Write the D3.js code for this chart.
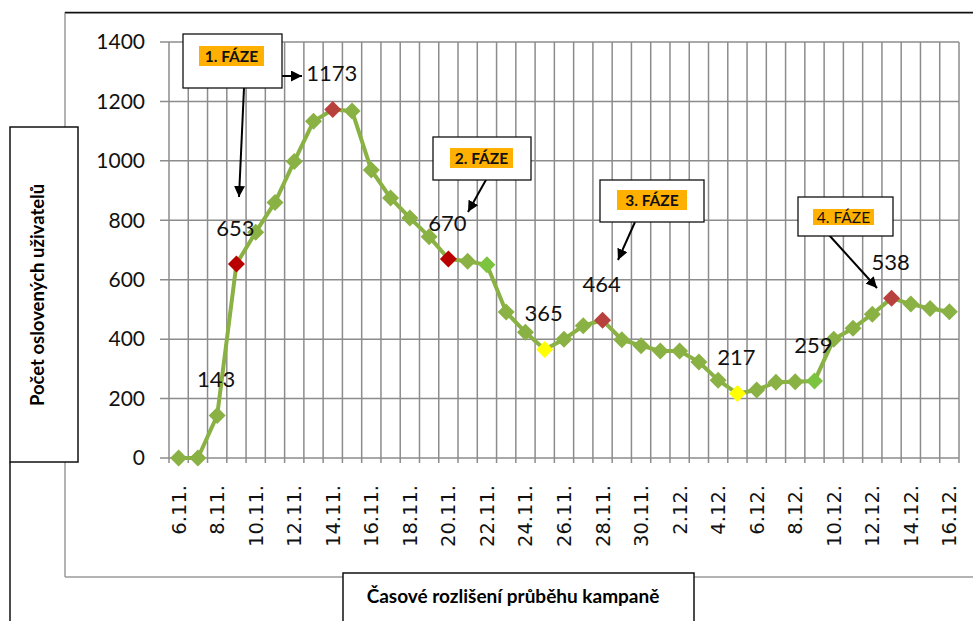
<!DOCTYPE html>
<html><head><meta charset="utf-8">
<script src="https://cdn.jsdelivr.net/npm/d3@7/dist/d3.min.js"></script>
<style>
html,body{margin:0;padding:0;background:#fff;}
svg{display:block;}
</style></head>
<body>
<svg id="chart" width="973" height="621"></svg>
<script>
// ---- data ----
const dates = ["6.11.","7.11.","8.11.","9.11.","10.11.","11.11.","12.11.","13.11.","14.11.","15.11.",
  "16.11.","17.11.","18.11.","19.11.","20.11.","21.11.","22.11.","23.11.","24.11.","25.11.",
  "26.11.","27.11.","28.11.","29.11.","30.11.","1.12.","2.12.","3.12.","4.12.","5.12.",
  "6.12.","7.12.","8.12.","9.12.","10.12.","11.12.","12.12.","13.12.","14.12.","15.12.","16.12."];
const users = [0,0,143,653,760,860,998,1133,1173,1168,
  969,875,808,745,670,662,650,491,423,365,
  400,445,464,398,378,360,360,323,262,217,
  229,255,257,259,400,437,484,538,518,503,492];
const yTicks = [0,200,400,600,800,1000,1200,1400];
const xTickLabels = ["6.11.","8.11.","10.11.","12.11.","14.11.","16.11.","18.11.","20.11.","22.11.","24.11.",
  "26.11.","28.11.","30.11.","2.12.","4.12.","6.12.","8.12.","10.12.","12.12.","14.12.","16.12."];
const phaseStartDates = ["9.11.","20.11."];       // strong red markers
const peakDates = ["14.11.","28.11.","13.12."];   // muted red markers
const lowDates = ["25.11.","5.12."];              // yellow markers
const turnDates = ["22.11.","9.12."];             // light green markers
const labeledDates = ["8.11.","9.11.","14.11.","20.11.","25.11.","28.11.","5.12.","9.12.","13.12."];
const phaseNames = ["1. FÁZE","2. FÁZE","3. FÁZE","4. FÁZE"];
const yTitle = "Počet oslovených uživatelů";
const xTitle = "Časové rozlišení průběhu kampaně";

// ---- drawing ----
const svg = d3.select("#chart");
const L = 169, R = 959, T = 42, B = 458;
const x = d3.scaleBand().domain(dates).range([L, R]).padding(0);
const y = d3.scaleLinear().domain([0, 1400]).range([B, T]);
const cx = d => x(d) + x.bandwidth() / 2;
const gridCol = "#8c8c8c";

// outer chart-area frame
svg.append("path").attr("d", "M65,577 L65,13 L973,13").attr("fill","none").attr("stroke","#9a9a9a").attr("stroke-width",1.5);
svg.append("line").attr("x1",65).attr("x2",973).attr("y1",12.5).attr("y2",12.5).attr("stroke","#111").attr("stroke-width",1.5);
svg.append("line").attr("x1",65).attr("x2",973).attr("y1",577).attr("y2",577).attr("stroke","#9a9a9a").attr("stroke-width",1.5);
svg.append("line").attr("x1",10).attr("x2",10).attr("y1",462).attr("y2",621).attr("stroke","#111").attr("stroke-width",1.5);

// gridlines
const g = svg.append("g");
const bounds = dates.map(d => x(d)).concat([R]);
g.selectAll("line.v").data(bounds).join("line")
  .attr("x1", d => d).attr("x2", d => d).attr("y1", T).attr("y2", B + 5)
  .attr("stroke", gridCol).attr("stroke-width", 1.5);
g.selectAll("line.h").data(yTicks).join("line")
  .attr("x1", L - 9).attr("x2", R).attr("y1", d => y(d)).attr("y2", d => y(d))
  .attr("stroke", gridCol).attr("stroke-width", 1.5);

// y tick labels
svg.append("g").selectAll("text").data(yTicks).join("text")
  .attr("x", 145).attr("y", d => y(d)).attr("dy", "0.35em")
  .attr("text-anchor", "end").attr("font-family", "Lato").attr("font-size", 21).attr("fill", "#111")
  .text(d => d);

// x tick labels (rotated)
svg.append("g").selectAll("text").data(xTickLabels).join("text")
  .attr("transform", d => `translate(${cx(d)},485) rotate(-90)`)
  .attr("dy", "0.36em").attr("text-anchor", "end")
  .attr("font-family", "DejaVu Sans").attr("font-size", 19.5).attr("fill", "#111")
  .text(d => d);

// line
const pts = dates.map((d, i) => ({d, v: users[i]}));
svg.append("path").datum(pts)
  .attr("d", d3.line().x(p => cx(p.d)).y(p => y(p.v)))
  .attr("fill", "none").attr("stroke", "#8AB143").attr("stroke-width", 4).attr("stroke-linejoin","round");

// markers
function markerColor(d) {
  if (phaseStartDates.includes(d)) return "#B80000";
  if (peakDates.includes(d)) return "#B8413E";
  if (lowDates.includes(d)) return "#FFFF00";
  if (turnDates.includes(d)) return "#7CC43F";
  return "#8AB143";
}
const ms = 8.5;
svg.append("g").selectAll("path").data(pts).join("path")
  .attr("transform", p => `translate(${cx(p.d)},${y(p.v)})`)
  .attr("d", `M0,${-ms} L${ms},0 L0,${ms} L${-ms},0 Z`)
  .attr("fill", p => markerColor(p.d));

// data labels
svg.append("g").selectAll("text").data(pts.filter(p => labeledDates.includes(p.d))).join("text")
  .attr("x", p => cx(p.d) - 1).attr("y", p => y(p.v) - 36).attr("dy", "0.35em")
  .attr("text-anchor", "middle").attr("font-family", "Lato").attr("font-size", 22).attr("fill", "#111")
  .text(p => p.v);

// axis title boxes
svg.append("rect").attr("x",10).attr("y",127).attr("width",68).attr("height",335)
  .attr("fill","#fff").attr("stroke","#111").attr("stroke-width",1.5);
svg.append("text").attr("transform","translate(38,295) rotate(-90)").attr("dy","0.35em")
  .attr("text-anchor","middle").attr("font-family","Lato").attr("font-weight","bold").attr("font-size",18.5).attr("fill","#000")
  .text(yTitle);
svg.append("rect").attr("x",343).attr("y",573).attr("width",351).attr("height",60)
  .attr("fill","#fff").attr("stroke","#111").attr("stroke-width",1.5);
svg.append("text").attr("x",513).attr("y",596).attr("dy","0.35em")
  .attr("text-anchor","middle").attr("font-family","Lato").attr("font-weight","bold").attr("font-size",19).attr("fill","#000")
  .text(xTitle);

// phase callouts
const defs = svg.append("defs");
defs.append("marker").attr("id","ah").attr("viewBox","0 0 10 10").attr("refX",10).attr("refY",5)
  .attr("markerWidth",5.5).attr("markerHeight",5.5).attr("markerUnits","strokeWidth").attr("orient","auto")
  .append("path").attr("d","M0,0 L10,5 L0,10 Z").attr("fill","#000");

const boxes = [
  {x:183, y:34, w:99, h:54, bx:199, bw:65, by:46, bh:20, bold:true},
  {x:433, y:137, w:98, h:43, bx:450, bw:63, by:148, bh:20, bold:true},
  {x:600, y:180, w:104, h:42, bx:617, bw:70, by:190, bh:20, bold:true},
  {x:798, y:197, w:95, h:39, bx:813, bw:61, by:209, bh:16, bold:false}
];
const arrows = [
  [244,88,239,197],[282,76,302,76],[487,178,468,212],[635,222,618,260],[829,235,877,288]
];
svg.append("g").selectAll("line").data(arrows).join("line")
  .attr("x1",a=>a[0]).attr("y1",a=>a[1]).attr("x2",a=>a[2]).attr("y2",a=>a[3])
  .attr("stroke","#000").attr("stroke-width",2).attr("marker-end","url(#ah)");
const pb = svg.append("g").selectAll("g").data(boxes).join("g");
pb.append("rect").attr("x",b=>b.x).attr("y",b=>b.y).attr("width",b=>b.w).attr("height",b=>b.h)
  .attr("fill","#fff").attr("stroke","#111").attr("stroke-width",1.3);
pb.append("rect").attr("x",b=>b.bx).attr("y",b=>b.by).attr("width",b=>b.bw).attr("height",b=>b.bh)
  .attr("fill","#FFB000");
pb.append("text").attr("x",b=>b.bx+b.bw/2).attr("y",b=>b.by+b.bh/2).attr("dy","0.36em")
  .attr("text-anchor","middle").attr("font-family","Lato").attr("font-weight",b=>b.bold?"bold":"normal")
  .attr("font-size",15.5).attr("fill","#111")
  .text((b,i)=>phaseNames[i]);
</script>
</body></html>
